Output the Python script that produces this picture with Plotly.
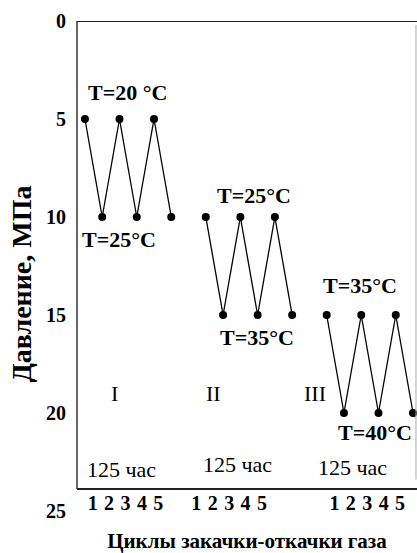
import plotly.graph_objects as go

# ---- data ----
group_names = ["I", "II", "III"]
group_start = [0, 7, 14]           # position of first point of each group (cycle steps)
pressure_I = [5, 10, 5, 10, 5, 10]
pressure_II = [10, 15, 10, 15, 10, 15]
pressure_III = [15, 20, 15, 20, 15, 20]
cycle_labels = ["1", "2", "3", "4", "5"]
y_tick_vals = [0, 5, 10, 15, 20, 25]
duration_label = "125 час"
temp_labels_top = ["T=20 \u00b0C", "T=25\u00b0C", "T=35\u00b0C"]
temp_labels_bottom = ["T=25\u00b0C", "T=35\u00b0C", "T=40\u00b0C"]
x_title = "Циклы закачки-откачки газа"
y_title = "Давление, МПа"

series = [pressure_I, pressure_II, pressure_III]

FONT = "Liberation Serif"
Y_AXIS_END = 23.88   # where the bottom frame line sits on the pressure scale

fig = go.Figure()
for start, vals in zip(group_start, series):
    xs = [start + i for i in range(len(vals))]
    fig.add_trace(go.Scatter(
        x=xs, y=vals, mode="lines+markers",
        line=dict(color="black", width=1.3),
        marker=dict(color="black", size=8),
        cliponaxis=False, showlegend=False, hoverinfo="skip"))

# x tick positions (label offsets inside each group)
label_offsets = [0.45, 1.4, 2.35, 3.3, 4.25]
tick_group_start = [0, 6, 14]
tickvals, ticktext = [], []
for gs in tick_group_start:
    for off, lab in zip(label_offsets, cycle_labels):
        tickvals.append(gs + off)
        ticktext.append("<b>" + lab + "</b>")

# annotations
bold = dict(family=FONT, size=22, color="black", weight="bold")
reg = dict(family=FONT, size=22, color="black")
top_pos = [(2.49, 3.67), (9.79, 8.88), (15.93, 13.47)]
bot_pos = [(1.97, 11.17), (9.97, 16.17), (16.8, 21.02)]
roman_pos = [(1.74, 19.0), (7.42, 19.0), (13.33, 19.0)]
dur_pos = [(2.14, 22.86), (8.81, 22.65), (15.47, 22.76)]
ann = []
for t, (x, y) in zip(temp_labels_top, top_pos):
    ann.append(dict(x=x, y=y, text=t, showarrow=False, font=bold,
                    xanchor="center", yanchor="middle"))
for t, (x, y) in zip(temp_labels_bottom, bot_pos):
    ann.append(dict(x=x, y=y, text=t, showarrow=False, font=bold,
                    xanchor="center", yanchor="middle"))
for t, (x, y) in zip(group_names, roman_pos):
    ann.append(dict(x=x, y=y, text=t, showarrow=False, font=reg,
                    xanchor="center", yanchor="middle"))
for (x, y) in dur_pos:
    ann.append(dict(x=x, y=y, text=duration_label, showarrow=False,
                    xanchor="center", yanchor="middle",
                    font=dict(family=FONT, size=22, color="black")))
# y axis title (placed as a rotated annotation to match the original's offset)
ann.append(dict(xref="paper", yref="y", x=-0.162, y=13.4, text="<b>" + y_title + "</b>",
                textangle=-90, showarrow=False, xanchor="center", yanchor="middle",
                font=dict(family=FONT, size=28, color="black")))

shapes = [
    dict(type="line", xref="paper", yref="y", x0=0, x1=1, y0=0, y1=0,
         line=dict(color="#222", width=2)),
    dict(type="line", xref="paper", yref="y", x0=0, x1=0, y0=0, y1=Y_AXIS_END,
         line=dict(color="black", width=1.2)),
    dict(type="line", xref="paper", yref="y", x0=0, x1=1, y0=Y_AXIS_END, y1=Y_AXIS_END,
         line=dict(color="#222", width=2)),
    dict(type="line", xref="paper", yref="y", x0=0.997, x1=0.997, y0=0.2, y1=23.4,
         line=dict(color="#aaa", width=1)),
]

fig.update_layout(
    width=417, height=553,
    margin=dict(l=77, r=0, t=21, b=42),
    paper_bgcolor="white", plot_bgcolor="white",
    font=dict(family=FONT, color="black"),
    annotations=ann, shapes=shapes,
    xaxis=dict(
        range=[-0.46, 19.23], showgrid=False, zeroline=False, showline=False,
        tickvals=tickvals, ticktext=ticktext, ticks="", automargin=False,
        tickfont=dict(family=FONT, size=20),
        anchor="free", position=(25 - Y_AXIS_END) / 25,
        title=dict(text="<b>" + x_title + "</b>",
                   font=dict(family=FONT, size=21), standoff=28),
    ),
    yaxis=dict(
        range=[25, 0], showgrid=False, zeroline=False, showline=False,
        tickvals=y_tick_vals, ticktext=["<b>%d</b>" % v for v in y_tick_vals],
        ticks="", ticklen=0,
        tickfont=dict(family=FONT, size=20), automargin=False,
        ticklabelstandoff=10,
    ),
)

fig.write_html("out.html", config={"displayModeBar": False},
               post_script="document.body.style.margin='0px';document.body.style.overflow='hidden';")
